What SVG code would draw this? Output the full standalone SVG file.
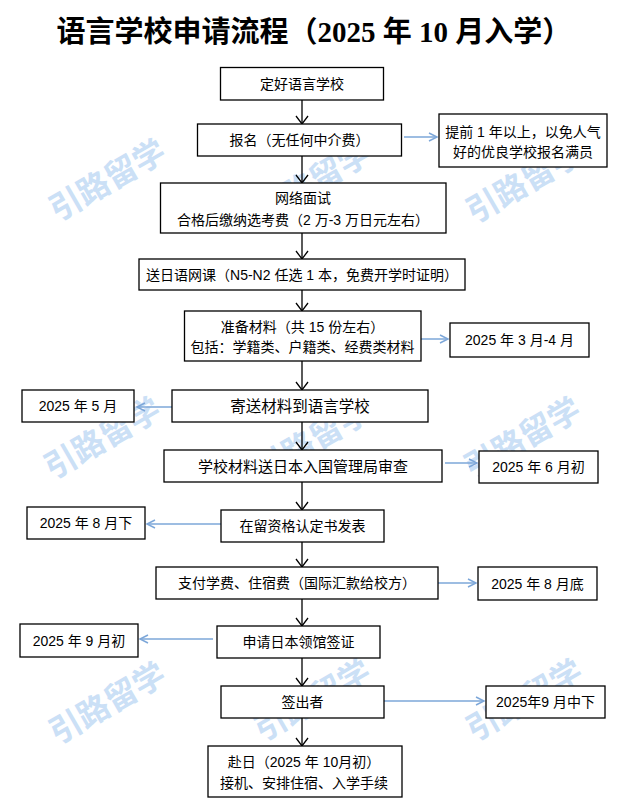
<svg xmlns="http://www.w3.org/2000/svg" width="631" height="810" viewBox="0 0 631 810">
<style>
.bg{fill:#fff}
.box{fill:#fff;stroke:#000;stroke-width:1.3}
.t{font-family:"Liberation Sans","Noto Sans CJK SC",sans-serif;font-size:14px;fill:#000;text-anchor:middle}
.tl{font-size:15.5px}
.tm{font-size:15px}
.title{font-family:"Liberation Serif","Noto Sans CJK SC",serif;font-weight:bold;font-size:29px;fill:#000;text-anchor:middle}
.wm{font-family:"Noto Sans CJK SC",sans-serif;font-weight:bold;font-size:32px;fill:#cbe0f6;text-anchor:middle}
.flow{stroke:#000;stroke-width:1.3;fill:none}
.side{stroke:#7da7d9;stroke-width:1.5;fill:none}
</style>
<defs>
<marker id="ab" viewBox="-10 -8 12 16" markerWidth="12" markerHeight="16" refX="0" refY="0" orient="auto" markerUnits="userSpaceOnUse">
<path d="M-8,-6 L0,0 L-8,6" fill="none" stroke="#000" stroke-width="1.3"/>
</marker>
<marker id="au" viewBox="-10 -6 12 12" markerWidth="12" markerHeight="12" refX="0" refY="0" orient="auto" markerUnits="userSpaceOnUse">
<path d="M-8,-4 L0,0 L-8,4" fill="none" stroke="#7da7d9" stroke-width="1.5"/>
</marker>
</defs>
<rect class="bg" x="0" y="0" width="631" height="810"/>
<g id="watermarks">
<text class="wm" transform="translate(113,190) rotate(-30)">引路留学</text>
<text class="wm" transform="translate(318,192) rotate(-30)">引路留学</text>
<text class="wm" transform="translate(530,192) rotate(-30)">引路留学</text>
<text class="wm" transform="translate(108,448) rotate(-30)">引路留学</text>
<text class="wm" transform="translate(318,450) rotate(-30)">引路留学</text>
<text class="wm" transform="translate(528,448) rotate(-30)">引路留学</text>
<text class="wm" transform="translate(113,713) rotate(-30)">引路留学</text>
<text class="wm" transform="translate(318,710) rotate(-30)">引路留学</text>
<text class="wm" transform="translate(530,710) rotate(-30)">引路留学</text>
</g>
<text class="title" x="314" y="42">语言学校申请流程（2025 年 10 月入学）</text>
<g id="connectors">
<line class="flow" x1="302" y1="100" x2="302" y2="124" marker-end="url(#ab)"/>
<line class="flow" x1="302" y1="156" x2="302" y2="183" marker-end="url(#ab)"/>
<line class="flow" x1="302" y1="233" x2="302" y2="259" marker-end="url(#ab)"/>
<line class="flow" x1="302" y1="290" x2="302" y2="311" marker-end="url(#ab)"/>
<line class="flow" x1="302" y1="361" x2="302" y2="390" marker-end="url(#ab)"/>
<line class="flow" x1="302" y1="422" x2="302" y2="450" marker-end="url(#ab)"/>
<line class="flow" x1="302" y1="482" x2="302" y2="510" marker-end="url(#ab)"/>
<line class="flow" x1="302" y1="542" x2="302" y2="567" marker-end="url(#ab)"/>
<line class="flow" x1="302" y1="599" x2="302" y2="626" marker-end="url(#ab)"/>
<line class="flow" x1="302" y1="658" x2="302" y2="686" marker-end="url(#ab)"/>
<line class="flow" x1="302" y1="718" x2="302" y2="746" marker-end="url(#ab)"/>
<line class="side" x1="404" y1="137" x2="437" y2="137" marker-end="url(#au)"/>
<line class="side" x1="421" y1="339" x2="448" y2="339" marker-end="url(#au)"/>
<line class="side" x1="172" y1="407" x2="137" y2="407" marker-end="url(#au)"/>
<line class="side" x1="445" y1="463" x2="477" y2="463" marker-end="url(#au)"/>
<line class="side" x1="221" y1="524" x2="147" y2="524" marker-end="url(#au)"/>
<line class="side" x1="438" y1="583" x2="476" y2="583" marker-end="url(#au)"/>
<line class="side" x1="213" y1="639" x2="140" y2="639" marker-end="url(#au)"/>
<line class="side" x1="384" y1="701" x2="484" y2="701" marker-end="url(#au)"/>
</g>
<g id="n1"><rect class="box" x="220.5" y="67.5" width="163" height="32.5"/><text class="t" x="302" y="89">定好语言学校</text></g>
<g id="n2"><rect class="box" x="197.5" y="124" width="204" height="32"/><text class="t" x="299.5" y="145">报名（无任何中介费）</text></g>
<g id="n3"><rect class="box" x="160.5" y="183" width="285.5" height="50"/><text class="t" x="303" y="203">网络面试</text><text class="t" x="303" y="225">合格后缴纳选考费（2 万-3 万日元左右）</text></g>
<g id="n4"><rect class="box" x="139" y="259" width="326" height="31"/><text class="t" x="302" y="279.5">送日语网课（N5-N2 任选 1 本，免费开学时证明）</text></g>
<g id="n5"><rect class="box" x="184.5" y="311" width="236.5" height="50"/><text class="t" x="302.5" y="332">准备材料（共 15 份左右）</text><text class="t" x="302.5" y="352">包括：学籍类、户籍类、经费类材料</text></g>
<g id="n6"><rect class="box" x="172" y="390" width="256" height="32"/><text class="t tl" x="300" y="412">寄送材料到语言学校</text></g>
<g id="n7"><rect class="box" x="164" y="450" width="278" height="32"/><text class="t tm" x="303" y="471.5">学校材料送日本入国管理局审查</text></g>
<g id="n8"><rect class="box" x="221" y="510" width="163" height="32"/><text class="t" x="302.5" y="531">在留资格认定书发表</text></g>
<g id="n9"><rect class="box" x="156" y="567" width="282" height="32"/><text class="t" x="297" y="588">支付学费、住宿费（国际汇款给校方）</text></g>
<g id="n10"><rect class="box" x="217" y="626" width="163" height="32"/><text class="t" x="298.5" y="647">申请日本领馆签证</text></g>
<g id="n11"><rect class="box" x="221" y="686" width="163" height="32"/><text class="t" x="302.5" y="707">签出者</text></g>
<g id="n12"><rect class="box" x="208" y="746" width="194" height="51"/><text class="t" x="304" y="767">赴日（2025 年 10月初）</text><text class="t" x="304" y="788">接机、安排住宿、入学手续</text></g>
<g id="s1"><rect class="box" x="439" y="114" width="168" height="53"/><text class="t" x="523" y="137">提前 1 年以上，以免人气</text><text class="t" x="523" y="157">好的优良学校报名满员</text></g>
<g id="s2"><rect class="box" x="450" y="323" width="139" height="34"/><text class="t" x="519.5" y="345">2025 年 3 月-4 月</text></g>
<g id="s3"><rect class="box" x="22" y="390" width="112" height="32"/><text class="t" x="78" y="411">2025 年 5 月</text></g>
<g id="s4"><rect class="box" x="479" y="451" width="119" height="32"/><text class="t" x="538.5" y="472">2025 年 6 月初</text></g>
<g id="s5"><rect class="box" x="27" y="507" width="118" height="32"/><text class="t" x="86" y="528">2025 年 8 月下</text></g>
<g id="s6"><rect class="box" x="478" y="567" width="119" height="33"/><text class="t" x="537.5" y="588.5">2025 年 8 月底</text></g>
<g id="s7"><rect class="box" x="20" y="624" width="118" height="33"/><text class="t" x="79" y="645.5">2025 年 9 月初</text></g>
<g id="s8"><rect class="box" x="486" y="686" width="119" height="32"/><text class="t" x="545.5" y="707">2025年9 月中下</text></g>
</svg>
